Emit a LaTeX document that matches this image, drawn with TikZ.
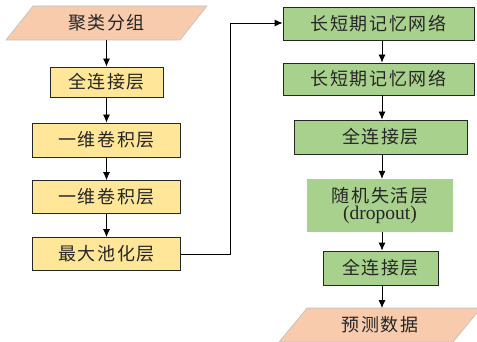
\documentclass[tikz,border=0pt]{standalone}
\usepackage{fontspec}
\setmainfont{Liberation Serif}
\newfontfamily\cjk{Noto Sans CJK SC}[LetterSpace=9]
\usetikzlibrary{arrows.meta}
\definecolor{yel}{HTML}{FFE699}
\definecolor{grn}{HTML}{A9D18E}
\definecolor{sal}{HTML}{F8CBAD}
\tikzset{
  base/.style={inner sep=0pt, font=\cjk\fontsize{18}{21}\selectfont, text=black!85},
  ybox/.style={base, draw=black!85, line width=0.8pt, fill=yel},
  gbox/.style={base, draw=black!85, line width=0.8pt, fill=grn},
  nbox/.style={base, fill=grn},
  para/.style={fill=sal, draw=black!25, line width=0.6pt},
  arr/.style={-{Latex[length=8pt,width=7pt]}, line width=0.8pt, black}
}
\begin{document}
\begin{tikzpicture}[x=1pt,y=-1pt]
\useasboundingbox (0,0) rectangle (477,342);
% input parallelogram
\filldraw[para] (6,40) -- (33,6) -- (207,6) -- (180,40) -- cycle;
\node[base] (in) at (106.5,23) {聚类分组};
\node[ybox, minimum width=113, minimum height=30] (fc1) at (106.5,82) {全连接层};
\node[ybox, minimum width=148, minimum height=34] (cv1) at (106.5,140) {一维卷积层};
\node[ybox, minimum width=148, minimum height=33] (cv2) at (106.5,197) {一维卷积层};
\node[ybox, minimum width=148, minimum height=33] (mp) at (106.5,254) {最大池化层};
\node[gbox, minimum width=191, minimum height=33] (l1) at (378.5,24) {长短期记忆网络};
\node[gbox, minimum width=191, minimum height=32] (l2) at (378.5,79) {长短期记忆网络};
\node[gbox, minimum width=173, minimum height=34] (fc2) at (380.5,137) {全连接层};
\node[nbox, minimum width=146, minimum height=53, align=center] (dr) at (380,205.5) {随机失活层\\[-4pt]{\rmfamily\fontsize{19.5}{22}\selectfont (dropout)}};
\node[gbox, minimum width=115, minimum height=34] (fc3) at (380.5,268) {全连接层};
\filldraw[para] (279,342) -- (307,308) -- (481,308) -- (453,342) -- cycle;
\node[base] (out) at (380,325) {预测数据};
\coordinate (c1) at (230,254);
\coordinate (c2) at (230,23);
\draw[arr] (106.5,40) -- (fc1.north);
\draw[arr] (fc1) -- (cv1);
\draw[arr] (cv1) -- (cv2);
\draw[arr] (cv2) -- (mp);
\draw[arr] (mp.east) -- (c1) -- (c2) -- (l1.west |- c2);
\draw[arr] (l1.south -| 382,0) -- (l2.north -| 382,0);
\draw[arr] (l2.south -| 382,0) -- (fc2.north -| 382,0);
\draw[arr] (fc2.south -| 382,0) -- (dr.north -| 382,0);
\draw[arr] (dr.south -| 382,0) -- (fc3.north -| 382,0);
\draw[arr] (fc3.south -| 382,0) -- (382,308);
\end{tikzpicture}
\end{document}
